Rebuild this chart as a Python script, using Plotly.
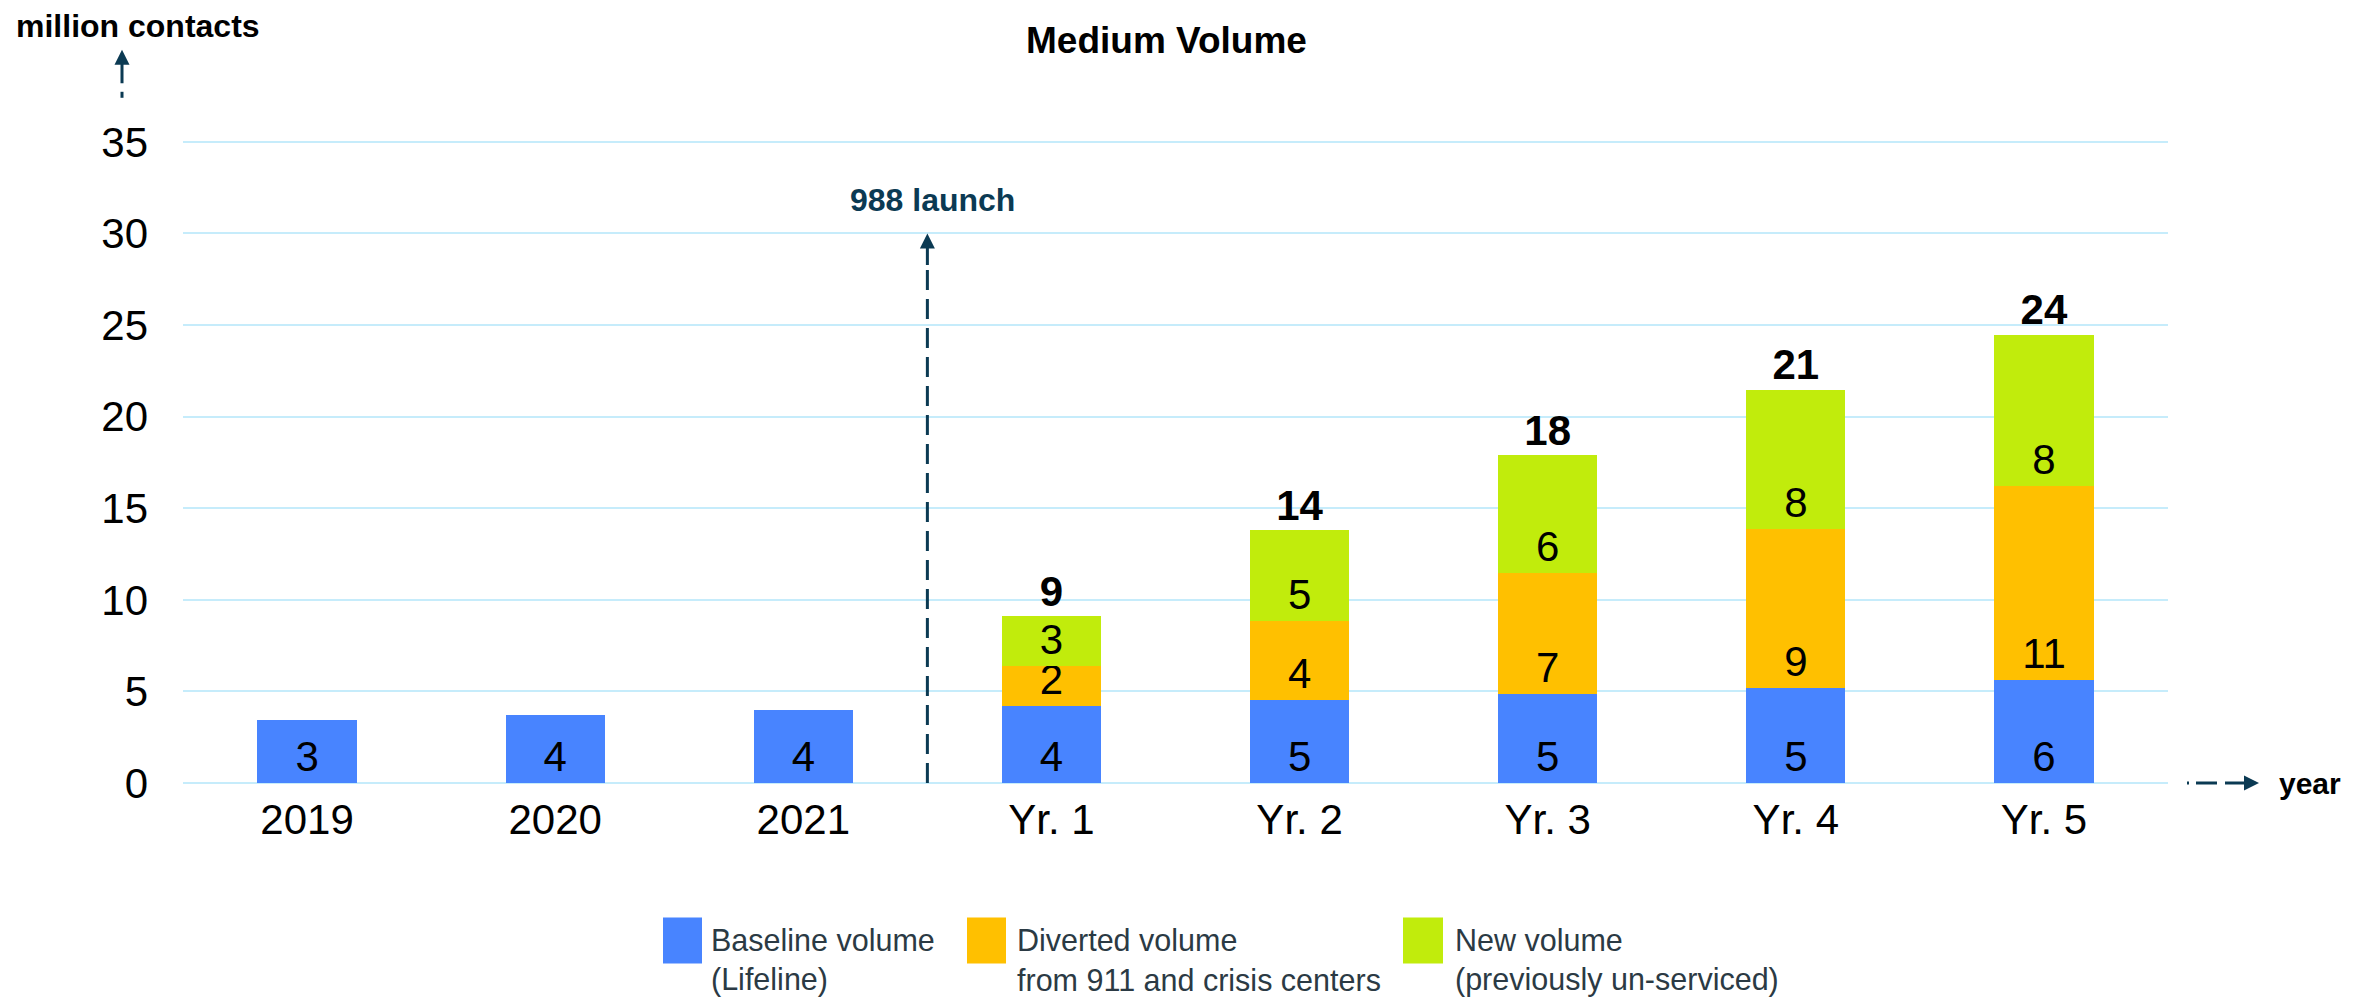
import plotly.graph_objects as go

# ---------------- data ----------------
categories = ["2019", "2020", "2021", "Yr. 1", "Yr. 2", "Yr. 3", "Yr. 4", "Yr. 5"]
baseline = [3.46, 3.72, 3.97, 4.2, 4.55, 4.87, 5.2, 5.6]
diverted = [None, None, None, 2.2, 4.3, 6.58, 8.66, 10.6]
new_vol = [None, None, None, 2.7, 4.95, 6.45, 7.6, 8.27]
series_line1 = ["Baseline volume", "Diverted volume", "New volume"]
series_line2 = ["(Lifeline)", "from 911 and crisis centers", "(previously un-serviced)"]
y_ticks = [0, 5, 10, 15, 20, 25, 30, 35]
launch_pos = 2.5      # between "2021" and "Yr. 1"
launch_level = 30

# ---------------- styling ----------------
OFF = 8                       # page body margin of the html page
W, H = 2369 - OFF, 998 - OFF
YMAX = 35.1
PL, PR, PB = 183, 2168, 782.6          # page coordinates of plot area
UNIT = (782.6 - 142) / 35              # pixels per million
PT = PB - YMAX * UNIT
FONT = "Liberation Sans, Arial, sans-serif"
BLUE, ORANGE, GREEN = "#4884FF", "#FFC000", "#C1EC0C"
GRID = "#C6ECFB"
NAVY = "#0B3A53"
colors = [BLUE, ORANGE, GREEN]


def px(x):
    return (x - PL) / (PR - PL)


def py(y):
    return (PB - y) / (PB - PT)


totals = []
for b, d, n in zip(baseline, diverted, new_vol):
    if d is None:
        totals.append(None)
    else:
        totals.append(b + d + n)

fig = go.Figure()
for vals, col, name in zip([baseline, diverted, new_vol], colors, series_line1):
    fig.add_trace(go.Bar(
        x=categories, y=vals, name=name, marker=dict(color=col, line=dict(width=0)),
        width=0.4, texttemplate="%{y:.0f}", textposition="inside",
        insidetextanchor="start", textangle=0, constraintext="none",
        textfont=dict(family=FONT, size=42, color="black"), showlegend=False,
        cliponaxis=False,
    ))

fig.add_trace(go.Scatter(
    x=categories, y=totals, mode="text",
    text=[("" if t is None else f"{t:.0f}") for t in totals],
    textposition="top center",
    textfont=dict(family=FONT, size=42, color="black", weight="bold"),
    showlegend=False, cliponaxis=False,
))

shapes = []
annotations = []

# 988 launch dashed arrow
arrow_px = 33
shapes.append(dict(type="line", xref="x", yref="y", x0=launch_pos, x1=launch_pos,
                   y0=0, y1=launch_level - arrow_px / UNIT,
                   line=dict(color=NAVY, width=3, dash="20px,9px")))
annotations.append(dict(x=launch_pos, y=launch_level, xref="x", yref="y", text="",
                        showarrow=True, ax=0, ay=arrow_px, arrowhead=2, arrowsize=1,
                        arrowwidth=3, arrowcolor=NAVY))
annotations.append(dict(x=launch_pos, y=31.8, xref="x", yref="y", text="<b>988 launch</b>",
                        showarrow=False, xshift=5,
                        font=dict(family=FONT, size=32, color=NAVY)))

# y-axis arrow (million contacts)
annotations.append(dict(x=px(122), y=py(50), xref="paper", yref="paper", text="",
                        showarrow=True, ax=0, ay=35, arrowhead=2, arrowsize=1,
                        arrowwidth=3, arrowcolor=NAVY))
shapes.append(dict(type="line", xref="paper", yref="paper", x0=px(122), x1=px(122),
                   y0=py(98), y1=py(92), line=dict(color=NAVY, width=3)))
annotations.append(dict(x=px(14), y=py(26), xref="paper", yref="paper",
                        text="<b>million contacts</b>", showarrow=False,
                        xanchor="left", yanchor="middle",
                        font=dict(family=FONT, size=32, color="black")))

# x-axis arrow (year)
annotations.append(dict(x=px(2259), y=0, xref="paper", yref="paper", text="",
                        showarrow=True, ax=-16, ay=0, arrowhead=2, arrowsize=1,
                        arrowwidth=3, arrowcolor=NAVY))
for a, b in [(2187, 2189), (2196, 2217), (2225, 2245)]:
    shapes.append(dict(type="line", xref="paper", yref="paper", x0=px(a), x1=px(b),
                       y0=0, y1=0, line=dict(color=NAVY, width=3)))
annotations.append(dict(x=px(2277), y=0, xref="paper", yref="paper", text="<b>year</b>",
                        showarrow=False, xanchor="left", yanchor="middle",
                        font=dict(family=FONT, size=30, color="black")))

# title
annotations.append(dict(x=px(1166), y=py(41), xref="paper", yref="paper",
                        text="<b>Medium Volume</b>", showarrow=False,
                        xanchor="center", yanchor="middle",
                        font=dict(family=FONT, size=37, color="black")))

# legend (manual)
legend_items = [(663, 702, 709), (967, 1006, 1015), (1403, 1443, 1453)]
for (x0, x1, tx), col, l1, l2 in zip(legend_items, colors, series_line1, series_line2):
    shapes.append(dict(type="rect", xref="paper", yref="paper", x0=px(x0), x1=px(x1),
                       y0=py(963), y1=py(917), fillcolor=col, line=dict(width=0)))
    for txt, yy in [(l1, 939), (l2, 979)]:
        annotations.append(dict(x=px(tx), y=py(yy), xref="paper", yref="paper", text=txt,
                                showarrow=False, xanchor="left", yanchor="middle",
                                align="left",
                                font=dict(family=FONT, size=30.5, color="#2B3A44")))

fig.update_layout(
    width=W, height=H, barmode="stack", bargap=0.6,
    paper_bgcolor="white", plot_bgcolor="white",
    margin=dict(l=PL - OFF, r=W - (PR - OFF), t=PT - OFF, b=H - (PB - OFF), pad=0),
    uniformtext=dict(mode="show", minsize=42),
    shapes=shapes, annotations=annotations, showlegend=False,
    font=dict(family=FONT),
)
fig.update_xaxes(type="category", showgrid=False, showline=False, zeroline=False,
                 ticks="", tickfont=dict(family=FONT, size=42, color="black"),
                 ticklabelstandoff=8)
fig.update_yaxes(range=[0, YMAX], tickvals=y_ticks, showgrid=True, gridcolor=GRID,
                 gridwidth=2, zeroline=True, zerolinecolor=GRID, zerolinewidth=2,
                 showline=False, ticks="",
                 tickfont=dict(family=FONT, size=42, color="black"),
                 ticklabelstandoff=34)

fig.write_html("out.html")
